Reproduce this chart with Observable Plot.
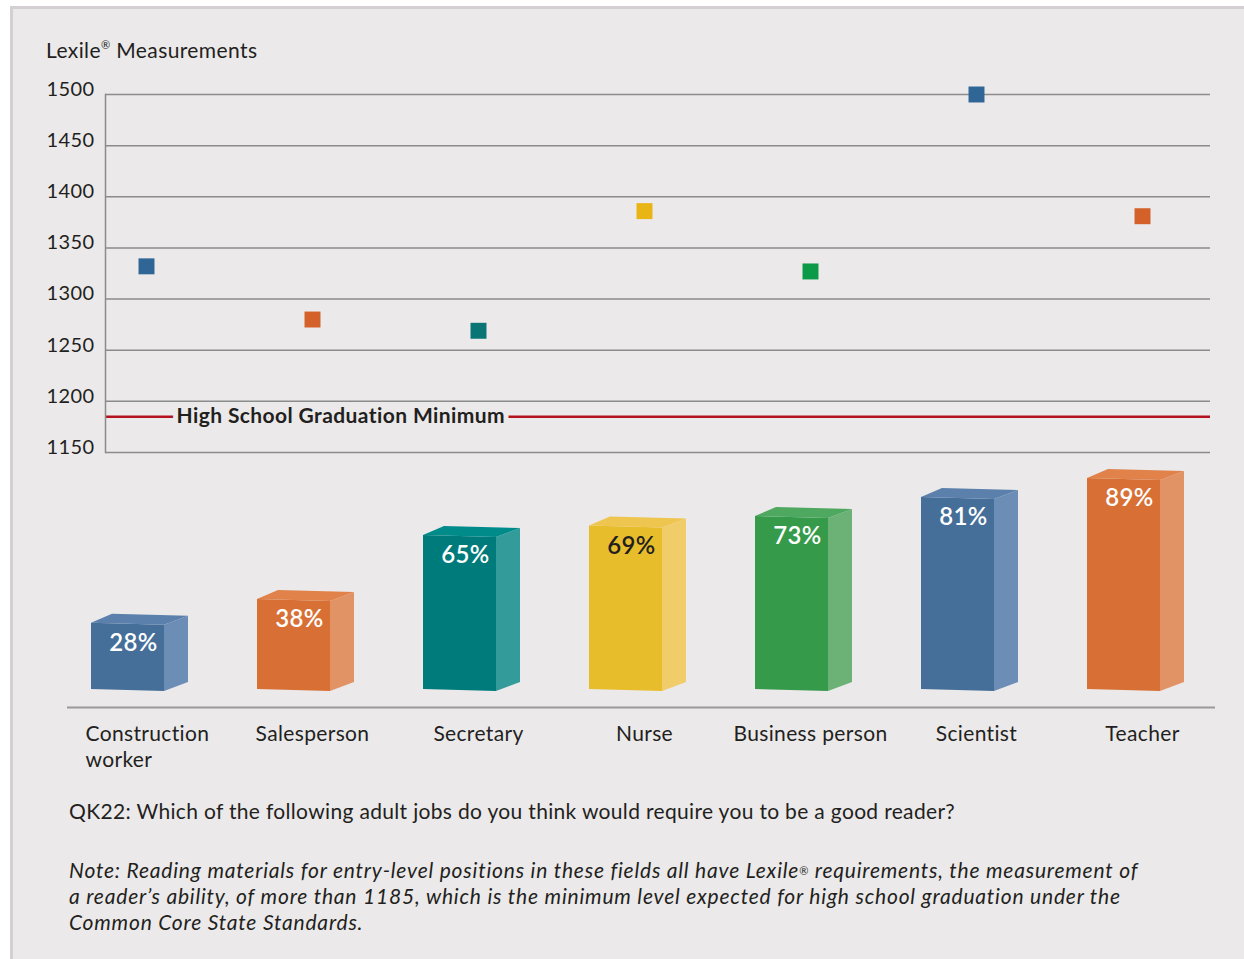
<!DOCTYPE html>
<html><head><meta charset="utf-8">
<script src="https://cdn.jsdelivr.net/npm/d3@7"></script>
<script src="https://cdn.jsdelivr.net/npm/@observablehq/plot@0.6"></script>
<style>
html,body{margin:0;padding:0;background:#fff;width:1244px;height:959px;overflow:hidden;font-family:Lato,sans-serif;color:#231f20;}
#panel{position:absolute;left:10px;top:6px;width:1260px;height:1000px;background:#ebe9ea;border-left:3px solid #d4cfd2;border-top:3px solid #d4cfd2;}
.abs{position:absolute;white-space:nowrap;}
#title{left:46px;top:37px;font-size:21px;letter-spacing:0.4px;}
#title sup{font-size:11px;vertical-align:top;position:relative;top:1px;}
#q{left:69px;top:798px;font-size:21px;letter-spacing:0.33px;}
#note{left:69px;top:857px;font-size:21px;font-style:italic;line-height:26px;letter-spacing:0.8px;}
#note sup{font-size:11px;font-style:normal;vertical-align:top;position:relative;top:1px;}
#c1,#c2{position:absolute;left:0;}
#c1{top:0;} #c2{top:440px;}
</style></head>
<body>
<div id="panel"></div>
<div id="title" class="abs">Lexile<sup>®</sup> Measurements</div>
<div id="c1"></div>
<div id="c2"></div>
<div id="q" class="abs">QK22: Which of the following adult jobs do you think would require you to be a good reader?</div>
<div id="note" class="abs">Note: Reading materials for entry-level positions in these fields all have Lexile<sup>®</sup> requirements, the measurement of<br>a reader’s ability, of more than 1185, which is the minimum level expected for high school graduation under the<br>Common Core State Standards.</div>
<script>
// ---- data ----
const jobs = ["Construction worker","Salesperson","Secretary","Nurse","Business person","Scientist","Teacher"];
const jobLabels = ["Construction\nworker","Salesperson","Secretary","Nurse","Business person","Scientist","Teacher"];
const lexile = [1332,1280,1269,1386,1327,1500,1381];
const pctGoodReader = [28,38,65,69,73,81,89];
const lexileTicks = [1150,1200,1250,1300,1350,1400,1450,1500];
const hsMinimum = 1185;
const hsLabel = "High School Graduation Minimum";
const markerColors = ["#2f6696","#d4602a","#0b7575","#e8b514","#0a9a48","#2f6696","#d4602a"];
const frontColors = ["#456f99","#d87035","#007b7b","#e8bd2c","#359b4b","#456f99","#d87035"];
const sideColors  = ["#6c8db5","#e29366","#349b9b","#f0cd69","#6cb277","#6c8db5","#e29366"];
const topColors   = ["#5b80ab","#e0824a","#008b8b","#eec54e","#4fa860","#5b80ab","#e0824a"];
const pctTextColors = ["#ffffff","#ffffff","#ffffff","#231f20","#ffffff","#ffffff","#ffffff"];

const points = jobs.map((job,i)=>({job, value: lexile[i], color: markerColors[i]}));
const bars = jobs.map((job,i)=>({job, label: jobLabels[i], pct: pctGoodReader[i], front: frontColors[i], side: sideColors[i], top: topColors[i], tc: pctTextColors[i]}));

const xScale = {type:"point", domain: jobs, range:[146,1142], padding:0, axis:null};
const gray = "#8b8b8b";
const bg = "#ebe9ea";

// ---- top chart: Lexile measurements ----
const p1 = Plot.plot({
  width:1244, height:470, marginTop:94, marginBottom:18, marginLeft:105, marginRight:34,
  style:{background:"transparent", fontFamily:"Lato, sans-serif", overflow:"visible", letterSpacing:"0.4px"},
  x: xScale,
  y: {domain:[1150,1500], axis:null},
  color: {type:"identity"},
  marks: [
    Plot.ruleY([hsMinimum], {stroke:"#b3121e", strokeWidth:2.5}),
    Plot.text([hsLabel], {y: ()=>hsMinimum, text: d=>d, frameAnchor:"left", textAnchor:"start", dx:71, fontSize:21, fontWeight:"bold", fill:"#231f20", stroke:bg, strokeWidth:10}),
    Plot.ruleY(lexileTicks, {stroke:gray, strokeWidth:1.5}),
    Plot.frame({anchor:"left", stroke:gray, strokeWidth:1.5}),
    Plot.axisY({ticks: lexileTicks, tickFormat: d=>String(d), tickSize:0, tickPadding:11, fontSize:20, fill:"#231f20", label:null, dy:-5}),
    Plot.dot(points, {x:"job", y:"value", symbol:"square", r:9, fill:"color"})
  ]
});
document.getElementById("c1").append(p1);

// ---- bottom chart: 3D bars ----
function bars3d(index, scales, values) {
  const g = d3.create("svg:g");
  const y0 = scales.y(0);
  for (const i of index) {
    const d = bars[i];
    const px = scales.x(d.job);
    const yT = scales.y(d.pct);
    const L = px - 55, R = px + 18, D = 24, H = 9;
    g.append("polygon").attr("fill", d.front)
      .attr("points", [[L,yT],[R,yT+2],[R,y0+2],[L,y0]].map(p=>p.join(",")).join(" "));
    g.append("polygon").attr("fill", d.side)
      .attr("points", [[R,yT+2],[R+D,yT+2-H],[R+D,y0+2-H],[R,y0+2]].map(p=>p.join(",")).join(" "));
    g.append("polygon").attr("fill", d.top)
      .attr("points", [[L,yT],[L+D-3,yT-H],[R+D,yT+2-H],[R,yT+2]].map(p=>p.join(",")).join(" "));
  }
  return g.node();
}

const p2 = Plot.plot({
  width:1244, height:350, marginTop:12, marginBottom:101, marginLeft:67, marginRight:29,
  style:{background:"transparent", fontFamily:"Lato, sans-serif", overflow:"visible", letterSpacing:"0.35px"},
  x: xScale,
  y: {domain:[0,100], axis:null},
  color: {type:"identity"},
  marks: [
    Plot.ruleY([0], {dy:18, stroke:"#9a9a9a", strokeWidth:2}),
    Plot.dot(bars, {x:"job", y:"pct", r:0, render: bars3d}),
    Plot.text(bars, {x:"job", y:"pct", text: d=>d.pct+"%", dx:-13, dy:20, fontSize:24, fontWeight:600, fill:"tc"}),
    Plot.text(bars.slice(0,1), {x:"job", y:()=>0, text:"label", textAnchor:"start", lineAnchor:"top", dx:-61, dy:33, fontSize:21, lineHeight:1.24, fill:"#231f20"}),
    Plot.text(bars.slice(1), {x:"job", y:()=>0, text:"label", textAnchor:"middle", lineAnchor:"top", dy:33, fontSize:21, lineHeight:1.24, fill:"#231f20"})
  ]
});
document.getElementById("c2").append(p2);
</script>
</body></html>
